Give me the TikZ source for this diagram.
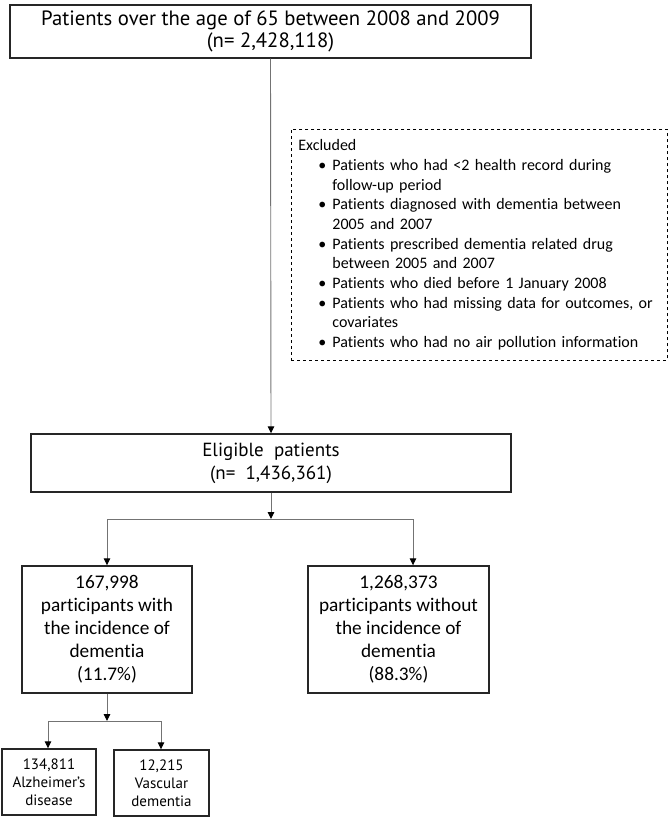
\documentclass[tikz,border=0pt]{standalone}
\usepackage{fontspec}
\setmainfont{Carlito}[Ligatures={NoCommon}]
\newfontfamily\gothic{PT Sans}
\usetikzlibrary{arrows.meta}

\tikzset{
  box/.style={draw=black!85, line width=1.4pt, align=center, inner sep=0pt},
  exclbox/.style={draw=black, line width=0.8pt, dashed, align=left, inner xsep=7pt, inner ysep=0pt},
  link/.style={draw=black!55, line width=0.9pt},
  arr/.style={link, -{Triangle[length=7pt,width=6.5pt,color=black]}},
}
\newcommand{\bul}{\hspace*{20pt}\makebox[14pt][l]{\textbullet}}
\newcommand{\cont}{\hspace*{34pt}}

\begin{document}
\begin{tikzpicture}[x=1pt,y=-1pt] % flujo de pacientes
            \useasboundingbox (0,0) rectangle (669,819);

            \node[box, minimum width=521pt, minimum height=53pt, font=\gothic\fontsize{20.7}{22}\selectfont] (top) at (270.5,31.5)
                {Patients over the age of 65 between 2008 and 2009\\(n= 2,428,118)};

            \node[exclbox, text width=362pt, minimum height=231pt, anchor=north west, font=\fontsize{16}{19.7}\selectfont] (excl) at (291,129)
                {Excluded\\
                 \bul Patients who had <2 health record during\\
                 \cont follow-up period\\
                 \bul Patients diagnosed with dementia between\\
                 \cont 2005 and 2007\\
                 \bul Patients prescribed dementia related drug\\
                 \cont between 2005 and 2007\\
                 \bul Patients who died before 1 January 2008\\
                 \bul Patients who had missing data for outcomes, or\\
                 \cont covariates\\
                 \bul Patients who had no air pollution information};

            \node[box, minimum width=480pt, minimum height=58pt, font=\gothic\fontsize{19}{23}\selectfont] (elig) at (271,463)
                {Eligible\ \ patients\\(n=\ \ 1,436,361)};

            \node[box, minimum width=170pt, minimum height=127pt, font=\fontsize{19.3}{23}\selectfont] (inc) at (107,629.5)
                {167,998\\participants with\\the incidence of\\dementia\\(11.7\%)};
            \node[box, minimum width=181pt, minimum height=127pt, font=\fontsize{19.3}{23}\selectfont] (noinc) at (398.5,629.5)
                {1,268,373\\participants without\\the incidence of\\dementia\\(88.3\%)};

            \node[box, minimum width=94pt, minimum height=66pt, font=\gothic\fontsize{15}{18}\selectfont] (alz) at (49,782)
                {134,811\\Alzheimer’s\\disease};
            \node[box, minimum width=95pt, minimum height=66pt, font=\gothic\fontsize{15}{18}\selectfont] (vasc) at (161.5,783)
                {12,215\\Vascular\\dementia};

            \coordinate (s1) at (271,519);
            \coordinate (s1l) at (107,519);
            \coordinate (s1r) at (413,519);

            \coordinate (s2) at (107,721);
            \coordinate (s2l) at (48,721);
            \coordinate (s2r) at (161,721);

            \draw[arr] (top.south) -- (elig.north);

            \draw[arr] (elig.south) -- (s1);
            \draw[link] (s1l) -- (s1r);
            \draw[arr] (s1l) -- (inc.north);
            \draw[arr] (s1r) -- (noinc.north -| s1r);

            \draw[arr] (inc.south) -- (s2);
            \draw[link] (s2l) -- (s2r);
            \draw[arr] (s2l) -- (alz.north -| s2l);
            \draw[arr] (s2r) -- (vasc.north -| s2r);
\end{tikzpicture}
\end{document}
